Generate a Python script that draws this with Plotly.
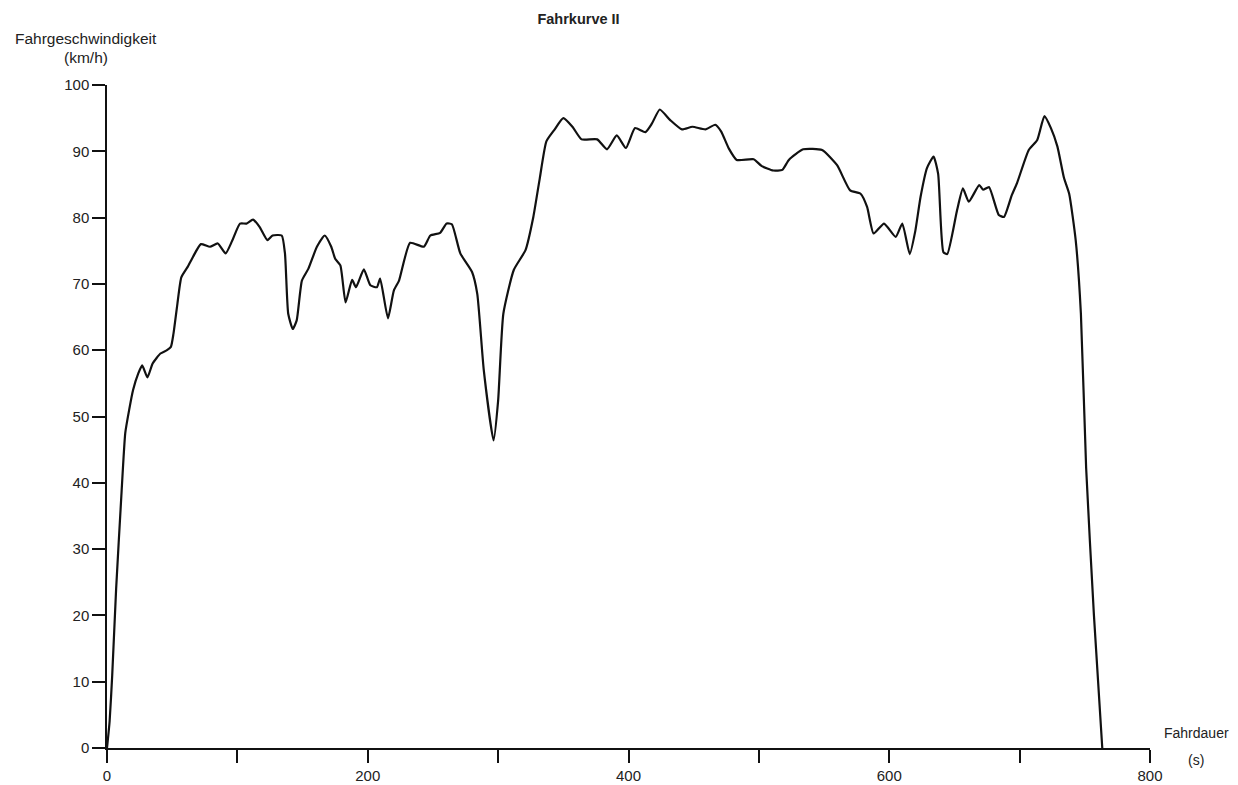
import plotly.graph_objects as go

# Fahrdauer (s)
time_s = [0, 2, 4, 7, 11, 14, 17, 20, 24, 27, 31, 35, 41, 46, 49, 51, 54, 57, 62, 66,
          72, 79, 85, 91, 96, 102, 107, 112, 117, 123, 127, 134, 136.5, 139, 142.5, 145.5,
          149.5, 154.5, 161, 167, 172, 175, 179, 183, 188, 191, 197, 202, 207, 209.5,
          215.5, 220, 224, 232.5, 243, 248, 255.5, 260.5, 264.5, 271, 280, 284, 289, 296.5,
          300, 304, 312, 321, 327, 332, 337, 343, 350, 357, 364, 376, 383.5, 391, 398, 405,
          413, 418, 424, 432, 441, 449, 459, 466.5, 471, 477, 483, 496, 502, 511, 518, 523,
          534, 548.5, 560, 570, 578, 583, 588, 596, 605, 610, 615.7, 620, 624, 629, 634,
          637.5, 641.5, 644.5, 652, 656.5, 661, 669, 672, 676.5, 684, 688, 694, 698, 707,
          713.5, 719, 724, 729, 734, 738, 743, 747, 751, 757, 763.4]

# Fahrgeschwindigkeit (km/h)
speed_kmh = [0, 4, 11, 24, 38, 47.5, 51, 54, 56.5, 57.7, 55.9, 58, 59.5, 60, 60.5, 62.5, 67, 71, 72.6, 74.1,
             76, 75.6, 76.1, 74.6, 76.5, 79.1, 79.1, 79.7, 78.6, 76.6, 77.3, 77.3, 74.6, 65.5, 63.2, 64.5,
             70.5, 72.3, 75.6, 77.3, 75.6, 73.8, 72.8, 67.2, 70.6, 69.5, 72.2, 69.8, 69.5, 70.8,
             64.8, 69, 70.5, 76.2, 75.6, 77.3, 77.7, 79.1, 79, 74.6, 71.8, 68.5, 57, 46.4,
             52.4, 65.5, 72.1, 75.1, 80.1, 86, 91.5, 93.2, 95, 93.7, 91.8, 91.8, 90.3, 92.4, 90.5, 93.5,
             92.9, 94.2, 96.3, 94.7, 93.3, 93.7, 93.3, 94, 93, 90.4, 88.7, 88.8, 87.8, 87.1, 87.2, 88.7,
             90.3, 90.2, 87.9, 84.1, 83.6, 81.6, 77.6, 79.1, 77.1, 79.1, 74.5, 78, 83.1, 87.5, 89.2,
             86.6, 74.8, 74.5, 81.1, 84.4, 82.4, 84.9, 84.2, 84.6, 80.4, 80.1, 83.4, 85.2, 90.2,
             91.7, 95.3, 93.5, 90.7, 86, 83.6, 76.6, 65.5, 42.3, 20, 0]

x_ticks = [0, 100, 200, 300, 400, 500, 600, 700, 800]
x_ticktext = ["0", "", "200", "", "400", "", "600", "", "800"]
y_ticks = [0, 10, 20, 30, 40, 50, 60, 70, 80, 90, 100]

FONT = "Liberation Sans, Arial, Helvetica, sans-serif"
TXT = "#222222"

W, H = 1230, 777
L, R, T, B = 99, 88, 77, 37
PW, PH = W - L - R, H - T - B


def px_x(sx):
    # screen x (page has 8px body offset) -> paper x
    return (sx - 8 - L) / PW


def px_y(sy):
    return 1 - (sy - 8 - T) / PH


fig = go.Figure()
fig.add_trace(go.Scatter(
    x=time_s, y=speed_kmh, mode="lines",
    line=dict(color="#111111", width=2.2, shape="spline", smoothing=0.5),
    showlegend=False, hoverinfo="x+y"))

ann_font = dict(size=15.5, family=FONT, color=TXT)
right_font = dict(size=14, family=FONT, color=TXT)
fig.update_layout(
    width=W, height=H,
    paper_bgcolor="white", plot_bgcolor="white",
    margin=dict(l=L, r=R, t=T, b=B, autoexpand=False),
    font=dict(family=FONT, size=15, color=TXT),
    title=dict(text="<b>Fahrkurve II</b>", x=(578.5 - 8) / W, xanchor="center",
               y=1 - (19 - 8) / H, yanchor="middle", font=dict(size=14.5, family=FONT, color=TXT)),
    annotations=[
        dict(text="Fahrgeschwindigkeit", xref="paper", yref="paper",
             x=px_x(86), y=px_y(38), xanchor="center", yanchor="middle",
             showarrow=False, font=ann_font),
        dict(text="(km/h)", xref="paper", yref="paper",
             x=px_x(86), y=px_y(58), xanchor="center", yanchor="middle",
             showarrow=False, font=ann_font),
        dict(text="Fahrdauer", xref="paper", yref="paper",
             x=px_x(1196), y=px_y(733), xanchor="center", yanchor="middle",
             showarrow=False, font=right_font),
        dict(text="(s)", xref="paper", yref="paper",
             x=px_x(1196), y=px_y(760), xanchor="center", yanchor="middle",
             showarrow=False, font=right_font),
    ],
)

fig.update_xaxes(
    range=[0, 800], tickvals=x_ticks, ticktext=x_ticktext,
    showline=True, linecolor="#111111", linewidth=1.5,
    ticks="outside", ticklen=13, tickwidth=1.5, tickcolor="#111111",
    showgrid=False, zeroline=False, fixedrange=True, automargin=False,
    tickfont=dict(size=15, family=FONT, color=TXT))
fig.update_yaxes(
    range=[0, 100], tickvals=y_ticks,
    showline=True, linecolor="#111111", linewidth=1.5,
    ticks="outside", ticklen=13, tickwidth=1.5, tickcolor="#111111",
    showgrid=False, zeroline=False, fixedrange=True, automargin=False,
    tickfont=dict(size=15, family=FONT, color=TXT))

fig.write_html("out.html")
